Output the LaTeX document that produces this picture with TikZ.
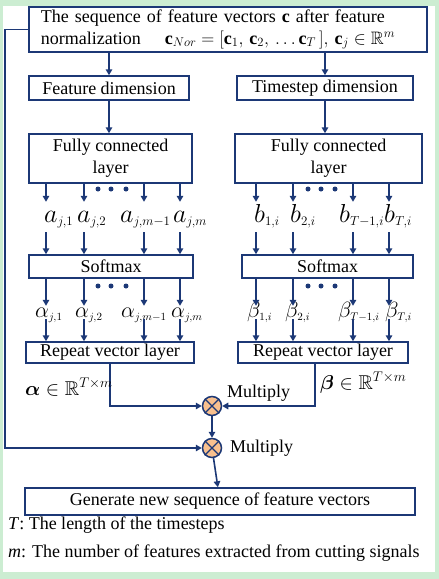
\RequirePackage{fix-cm}
\documentclass[tikz,border=0pt]{standalone}
\usepackage{amsmath,amssymb}
\usepackage{fontspec}
\setmainfont{Liberation Serif}
\usetikzlibrary{arrows.meta}
\definecolor{navy}{RGB}{28,56,118}
\definecolor{mulfill}{RGB}{248,192,142}
\definecolor{bggreen}{RGB}{204,237,210}
\newcommand{\ssub}[1]{_{\scriptscriptstyle #1}}

\begin{document}
\begin{tikzpicture}[
            x=1pt, y=-1pt,
            font=\fontsize{18}{22}\selectfont,
            block/.style={rectangle, draw=navy, line width=1.5pt, fill=white, inner sep=0pt, align=center},
            mult/.style={circle, draw=navy, line width=1.5pt, fill=mulfill, minimum size=19pt, inner sep=0pt},
            link/.style={-{Triangle[length=6pt,width=6.5pt]}, navy, line width=1.6pt},
            wire/.style={navy, line width=1.6pt},
            latin/.style={inner xsep=0pt, inner ysep=4pt, anchor=base west, text height=16pt, text depth=6pt, font=\fontsize{26}{30}\selectfont},
            greek/.style={inner xsep=0pt, inner ysep=2pt, anchor=base west, text height=9pt, text depth=0pt, font=\fontsize{22}{26}\selectfont},
            note/.style={anchor=base west, inner sep=0pt}
        ]
            % Background
            \useasboundingbox (0,0) rectangle (439,579);
            \fill[bggreen] (0,0) rectangle (439,579);
            \fill[white] (3,6) rectangle (435,572);

            % --- Node Placement ---
            \node[block, minimum width=398pt, minimum height=45pt, text width=374pt, align=left] (seq) at (228,29.5)
              {The sequence of feature vectors $\mathbf{c}$ after feature\\normalization\hspace{24pt}$\mathbf{c}_{Nor}=[\mathbf{c}_1,\,\mathbf{c}_2,\,\ldots\mathbf{c}_T\,],\,\mathbf{c}_j\in\mathbb{R}^m$};
            \node[block, minimum width=160pt, minimum height=24pt] (featdim) at (109,88) {Feature dimension};
            \node[block, minimum width=176pt, minimum height=24pt] (timedim) at (325,88) {Timestep dimension};
            \node[block, minimum width=163pt, minimum height=49pt] (fcfeat) at (110.5,158.5) {Fully connected\\layer};
            \node[block, minimum width=187pt, minimum height=49pt] (fctime) at (328.5,158.5) {Fully connected\\layer};
            \node[block, minimum width=164pt, minimum height=23pt] (softfeat) at (111,266.5) {Softmax};
            \node[block, minimum width=171pt, minimum height=23pt] (softtime) at (327.5,266.5) {Softmax};
            \node[block, minimum width=168pt, minimum height=21pt] (repfeat) at (110,352.5) {Repeat vector layer};
            \node[block, minimum width=170pt, minimum height=21pt] (reptime) at (323,352.5) {Repeat vector layer};
            \node[mult] (mul1) at (212,406) {};
            \node[mult] (mul2) at (212,448) {};
            \node[block, minimum width=390pt, minimum height=27pt] (gen) at (220,501.5) {Generate new sequence of feature vectors};
            \coordinate (bypass) at (5,448);
            \foreach \m in {mul1,mul2}
              \draw[wire, line width=1.2pt] (\m.north east) -- (\m.south west) (\m.north west) -- (\m.south east);

            % --- Feature branch ---
            \foreach \cx/\lx/\gx/\lab/\glab [count=\k] in {46/44/35/{a\ssub{j,1}}/{\alpha\ssub{j,1}}, 84/77/75/{a\ssub{j,2}}/{\alpha\ssub{j,2}},
                                                   144/120/121/{a\ssub{j,m-1}}/{\alpha\ssub{j,m-1}}, 180/173/171/{a\ssub{j,m}}/{\alpha\ssub{j,m}}}{
              \coordinate (fcol\k) at (\cx,0);
              \node[latin] (a\k) at (\lx,222) {$\lab$};
              \node[greek] (alpha\k) at (\gx,317) {$\glab$};
              \draw[link] (fcfeat.south -| fcol\k) -- (a\k.north -| fcol\k);
              \draw[link] (a\k.south -| fcol\k) -- (softfeat.north -| fcol\k);
              \draw[link] (softfeat.south -| fcol\k) -- (alpha\k.north -| fcol\k);
              \draw[link] (alpha\k.south -| fcol\k) -- (repfeat.north -| fcol\k);
            }

            % --- Timestep branch ---
            \foreach \cx/\lx/\gx/\lab/\glab [count=\k] in {256/254/247/{b\ssub{1,i}}/{\beta\ssub{1,i}}, 293/290/285/{b\ssub{2,i}}/{\beta\ssub{2,i}},
                                                   353/339/338/{b\ssub{T-1,i}}/{\beta\ssub{T-1,i}}, 389/384/385/{b\ssub{T,i}}/{\beta\ssub{T,i}}}{
              \coordinate (tcol\k) at (\cx,0);
              \node[latin] (b\k) at (\lx,222) {$\lab$};
              \node[greek] (beta\k) at (\gx,317) {$\glab$};
              \draw[link] (fctime.south -| tcol\k) -- (b\k.north -| tcol\k);
              \draw[link] (b\k.south -| tcol\k) -- (softtime.north -| tcol\k);
              \draw[link] (softtime.south -| tcol\k) -- (beta\k.north -| tcol\k);
              \draw[link] (beta\k.south -| tcol\k) -- (reptime.north -| tcol\k);
            }

            % dots
            \foreach \dx in {98,111,126} {
              \fill[navy] (\dx,189) circle (2.5pt);
              \fill[navy] (\dx,286) circle (2.5pt);
            }
            \foreach \dx in {308,321,335} {
              \fill[navy] (\dx,189) circle (2.5pt);
              \fill[navy] (\dx,286) circle (2.5pt);
            }

            % --- Links and Labels ---
            \draw[link] (seq.south -| featdim.north) -- (featdim.north);
            \draw[link] (seq.south -| timedim.north) -- (timedim.north);
            \draw[link] (featdim.south) -- (featdim.south |- fcfeat.north);
            \draw[link] (timedim.south) -- (timedim.south |- fctime.north);
            \draw[link] (repfeat.south) |- (mul1.west);
            \draw[link] ([xshift=-8pt]reptime.south) |- (mul1.east);
            \draw[link] (mul1) -- (mul2);
            \draw[link] (seq.west) -| (bypass) |- (mul2.west);
            \draw[link] (mul2) -- (gen);

            \node[note, font=\fontsize{20}{24}\selectfont] (alphadim) at (25,395) {$\boldsymbol{\alpha}\in\mathbb{R}^{T\times m}$};
            \node[note, font=\fontsize{20}{24}\selectfont] (betadim) at (320,389) {$\boldsymbol{\beta}\in\mathbb{R}^{T\times m}$};
            \node[note] (mullab1) at (227,397) {Multiply};
            \node[note] (mullab2) at (230,452) {Multiply};
            \node[note] (noteT) at (8,529) {\textit{T}: The length of the timesteps};
            \node[note] (notem) at (8,557) {\textit{m}: The number of features extracted from cutting signals};
        \end{tikzpicture}
\end{document}
